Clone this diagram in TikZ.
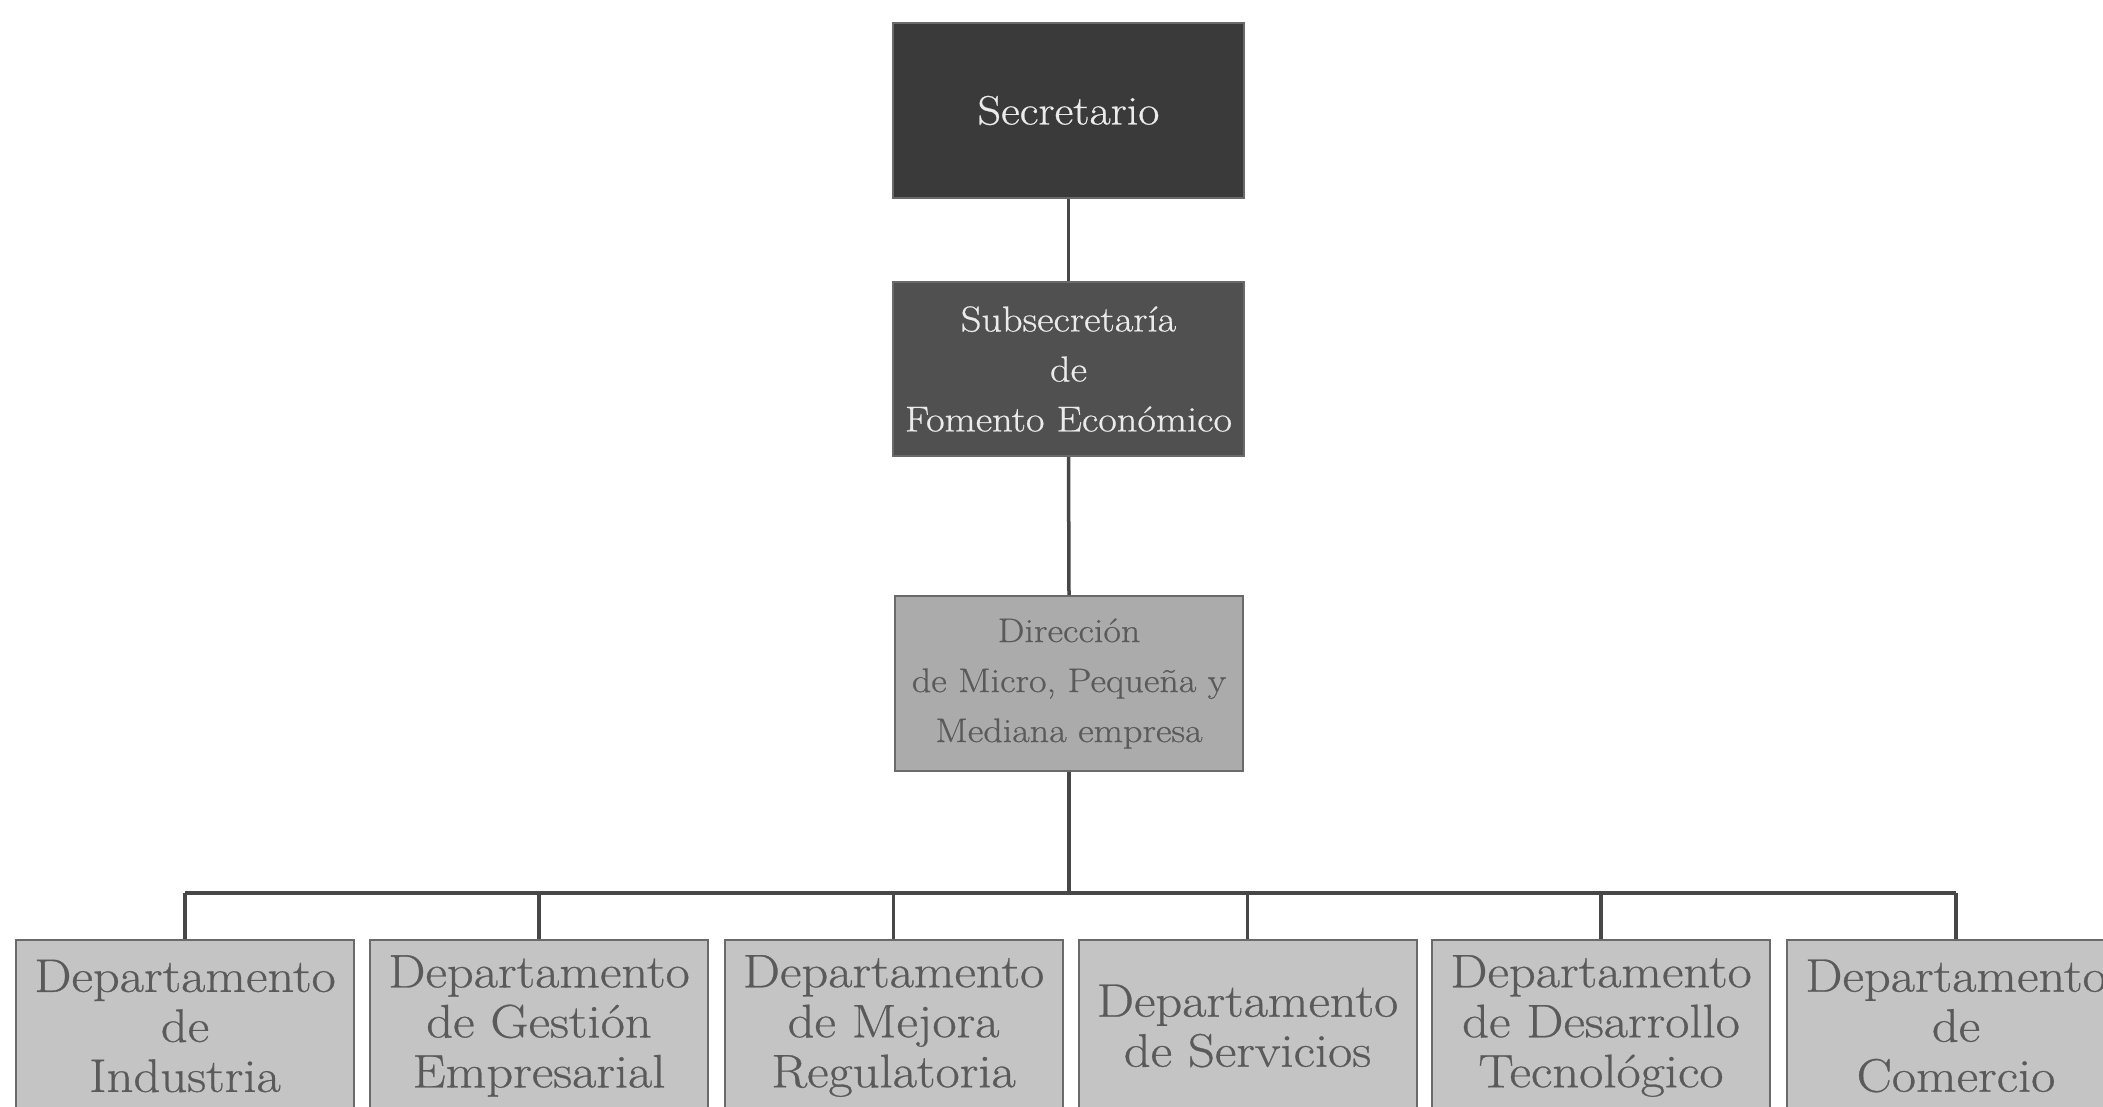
\documentclass[tikz,border=0pt]{standalone}
\usepackage{fontspec}
\defaultfontfeatures{FakeStretch=1.12,FakeBold=0.6}
\setmainfont{Latin Modern Roman}
\definecolor{darkA}{HTML}{3A3A3A}
\definecolor{darkB}{HTML}{505050}
\definecolor{midC}{HTML}{ABABAB}
\definecolor{lightD}{HTML}{C4C4C4}
\definecolor{edge}{HTML}{6A6A6A}
\definecolor{txtgray}{HTML}{5A5A5A}
\definecolor{wire}{HTML}{474747}
\begin{document}
\begin{tikzpicture}[x=1pt,y=-1pt,
  box/.style={draw=edge, line width=2pt, rectangle, align=center, inner sep=0pt},
  secbox/.style={box, fill=darkA, text=white!92!black, font=\fontsize{41}{50}\selectfont, minimum width=351pt, minimum height=175pt},
  subbox/.style={box, fill=darkB, text=white!92!black, font=\fontsize{36}{50}\selectfont, minimum width=351pt, minimum height=174pt},
  dirbox/.style={box, fill=midC, text=txtgray, font=\fontsize{34}{50}\selectfont, minimum width=348pt, minimum height=175pt},
  depbox/.style={box, fill=lightD, text=txtgray, font=\fontsize{47}{50}\selectfont, minimum width=338pt, minimum height=172pt},
  link/.style={draw=wire, line width=3.5pt}]
\useasboundingbox (0,0) rectangle (2103,1107);
\clip (0,0) rectangle (2103,1107);
\node[secbox] (sec) at (1068.5,110.5) {Secretario};
\node[subbox] (sub) at (1068.5,369) {Subsecretaría\\de\\Fomento Económico};
\node[dirbox] (dir) at (1069,683.5) {Dirección\\de Micro, Pequeña y\\Mediana empresa};
\node[depbox] (d1) at (185,1026) {Departamento\\de\\Industria};
\node[depbox] (d2) at (539,1026) {Departamento\\de Gestión\\Empresarial};
\node[depbox] (d3) at (893.5,1026) {Departamento\\de Mejora\\Regulatoria};
\node[depbox] (d4) at (1247.5,1026) {Departamento\\de Servicios};
\node[depbox] (d5) at (1601,1026) {Departamento\\de Desarrollo\\Tecnológico};
\node[depbox] (d6) at (1956,1026) {Departamento\\de\\Comercio};
\coordinate (bus) at (1068.5,893);
\path[link] (sec.south) -- (sub.north);
\path[link] (sub.south) -- (dir.north);
\path[link] (dir.south) -- (dir.south |- bus);
\path[link] (d1.north |- bus) -- (d6.north |- bus);
\foreach \d in {d1,d2,d3,d4,d5,d6}{
  \path[link] (\d.north) -- (\d.north |- bus);
}
\end{tikzpicture}
\end{document}
